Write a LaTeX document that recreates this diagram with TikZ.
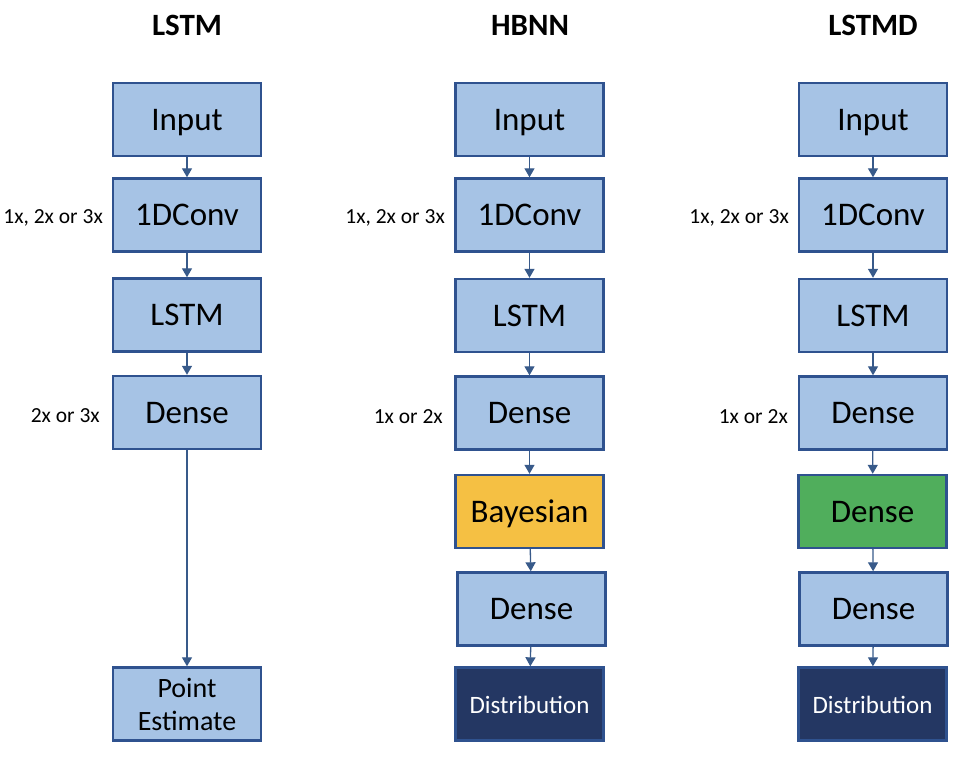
\documentclass[tikz,border=0pt]{standalone}
\usepackage{fontspec}
\setmainfont{Carlito}
\usetikzlibrary{arrows.meta}
\definecolor{boxblue}{HTML}{A6C3E5}
\definecolor{edgeblue}{HTML}{2F528F}
\definecolor{arrowblue}{HTML}{385A8A}
\definecolor{bayes}{HTML}{F5C043}
\definecolor{greenbox}{HTML}{50AE5C}
\definecolor{distbox}{HTML}{243763}
\tikzset{
  basebox/.style={draw=edgeblue, line width=2.4pt, fill=boxblue, minimum width=148pt, minimum height=73pt, inner sep=0pt, text=black},
  layer/.style={basebox, font=\fontsize{33}{36}\selectfont, text height=27.4pt, text depth=5.6pt},
  bayesbox/.style={layer, fill=bayes},
  greenlayer/.style={layer, fill=greenbox},
  distlayer/.style={basebox, fill=distbox, text=white, font=\fontsize{25}{28}\selectfont, text height=21.5pt, text depth=3.5pt},
  pointlayer/.style={basebox, align=center, font=\fontsize{28}{33}\selectfont},
  title/.style={font=\fontsize{31}{34}\selectfont\bfseries},
  rep/.style={anchor=east, inner sep=0pt, font=\fontsize{21.5}{24}\selectfont},
  flow/.style={draw=arrowblue, line width=1.3pt, -{Triangle[length=9pt, width=10pt]}}
}
\begin{document}
\begin{tikzpicture}[x=1pt, y=-1pt]
\useasboundingbox (0,0) rectangle (958,756);
% titles
\node[title] (t1) at (187,25) {LSTM};
\node[title] (t2) at (530,25) {HBNN};
\node[title] (t3) at (873,25) {LSTMD};
% column 1
\node[layer] (a1) at (187,119.5) {Input};
\node[layer] (a2) at (187,215) {1DConv};
\node[layer] (a3) at (187,315) {LSTM};
\node[layer] (a4) at (187,412.5) {Dense};
\node[pointlayer] (a5) at (187,704) {Point\\Estimate};
\draw[flow] (a1) -- (a2);
\draw[flow] (a2) -- (a3);
\draw[flow] (a3) -- (a4);
\draw[flow] (a4) -- (a5);
\node[rep] (l1) at (103,218) {1x, 2x or 3x};
\node[rep] (l2) at (100,416) {2x or 3x};
% column 2
\node[layer] (b1) at (529.5,119.5) {Input};
\node[layer] (b2) at (529.5,215) {1DConv};
\node[layer] (b3) at (529.5,315.5) {LSTM};
\node[layer] (b4) at (529.5,413) {Dense};
\node[bayesbox] (b5) at (529.5,511.5) {Bayesian};
\node[layer] (b6) at (531.5,609) {Dense};
\node[distlayer] (b7) at (529.5,704) {Distribution};
\draw[flow] (b1) -- (b2);
\draw[flow] (b2) -- (b3);
\draw[flow] (b3) -- (b4);
\draw[flow] (b4) -- (b5);
\draw[flow] (b5) -- (b6);
\draw[flow] (b6) -- (b7);
\node[rep] (l3) at (445,218) {1x, 2x or 3x};
\node[rep] (l4) at (443,417) {1x or 2x};
% column 3
\node[layer] (c1) at (873,119.5) {Input};
\node[layer] (c2) at (873,215) {1DConv};
\node[layer] (c3) at (873,315.5) {LSTM};
\node[layer] (c4) at (873,413) {Dense};
\node[greenlayer] (c5) at (872.5,511.5) {Dense};
\node[layer] (c6) at (873.5,609) {Dense};
\node[distlayer] (c7) at (872.5,704) {Distribution};
\draw[flow] (c1) -- (c2);
\draw[flow] (c2) -- (c3);
\draw[flow] (c3) -- (c4);
\draw[flow] (c4) -- (c5);
\draw[flow] (c5) -- (c6);
\draw[flow] (c6) -- (c7);
\node[rep] (l5) at (789,218) {1x, 2x or 3x};
\node[rep] (l6) at (788,417) {1x or 2x};
\end{tikzpicture}
\end{document}
